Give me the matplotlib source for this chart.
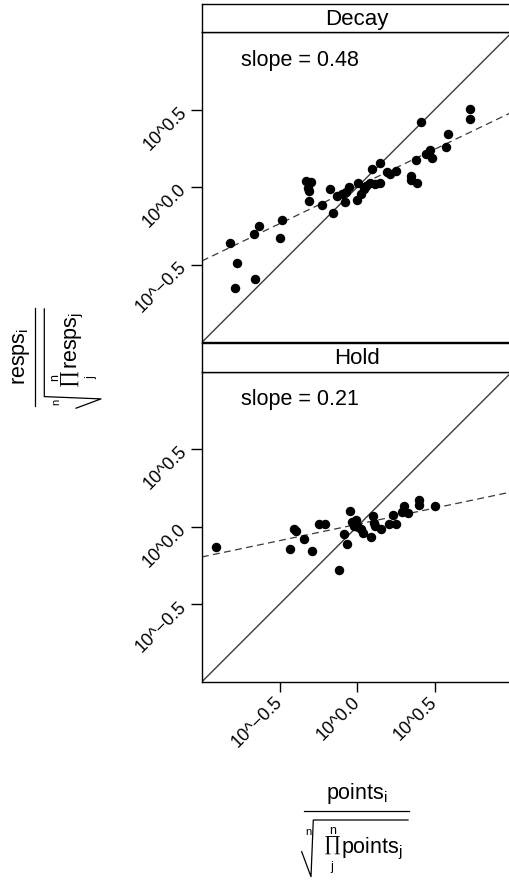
import matplotlib
matplotlib.use("Agg")
import matplotlib.pyplot as plt
import numpy as np
from matplotlib.lines import Line2D
from matplotlib.transforms import Affine2D

plt.rcParams["font.family"] = ["Liberation Sans", "DejaVu Sans"]
plt.rcParams["mathtext.fontset"] = "custom"
plt.rcParams["mathtext.rm"] = "Liberation Sans"
plt.rcParams["mathtext.it"] = "Liberation Sans"
plt.rcParams["mathtext.bf"] = "Liberation Sans:bold"

# data, all in log10 units (both axes)
decay_x = [-0.818, -0.777, -0.788, -0.659, -0.665, -0.631, -0.494, -0.481,
           -0.326, -0.294, -0.318, -0.309, -0.307, -0.223, -0.172, -0.155,
           -0.131, -0.097, -0.071, -0.079, -0.054, -0.002, 0.009, 0.024,
           0.043, 0.056, 0.082, 0.097, 0.118, 0.146, 0.146, 0.195, 0.215,
           0.249, 0.348, 0.350, 0.384, 0.378, 0.414, 0.448, 0.472, 0.487,
           0.573, 0.586, 0.730, 0.730]
decay_y = [-0.358, -0.491, -0.651, -0.592, -0.302, -0.248, -0.330, -0.210,
           0.038, 0.033, -0.005, -0.027, -0.087, -0.113, -0.012, -0.167,
           -0.059, -0.046, -0.033, -0.096, 0.005, -0.085, 0.027, -0.042,
           -0.012, 0.010, 0.029, 0.115, 0.023, 0.029, 0.154, 0.096, 0.087,
           0.102, 0.074, 0.048, 0.027, 0.177, 0.420, 0.218, 0.238, 0.188,
           0.259, 0.343, 0.502, 0.438]
hold_x = [-0.910, -0.431, -0.408, -0.391, -0.341, -0.292, -0.245, -0.208,
          -0.118, -0.086, -0.062, -0.045, -0.032, -0.009, -0.017, 0.006,
          0.024, 0.041, 0.088, 0.101, 0.112, 0.118, 0.152, 0.206, 0.232,
          0.253, 0.288, 0.300, 0.326, 0.399, 0.399, 0.500]
hold_y = [-0.129, -0.142, -0.015, -0.030, -0.082, -0.155, 0.015, 0.017,
          -0.279, -0.045, -0.112, 0.103, 0.032, 0.043, 0.006, 0.000,
          -0.013, -0.041, -0.067, 0.071, 0.026, 0.004, -0.013, 0.019, 0.073,
          0.015, 0.097, 0.133, 0.090, 0.172, 0.139, 0.135]

panel_names = ["Decay", "Hold"]
fit_slopes = [0.48, 0.21]
fit_intercepts = [0.005, 0.015]

tick_vals = [-0.5, 0.0, 0.5]
tick_labels = ["10^\u22120.5", "10^0.0", "10^0.5"]

W, H = 510, 880
fig = plt.figure(figsize=(W / 100, H / 100), dpi=100)


def fx(px):
    return px / W


def fy(py):
    return 1 - py / H


def draw_ratio_label(name, cx, cy, half, rot, num_gap=12):
    """name_i over the n-th root of prod name_j, drawn piece by piece (pixels)."""
    tr = Affine2D().rotate_deg(rot).translate(cx, H - cy)
    kw = dict(transform=tr, rotation=rot, rotation_mode="anchor")
    big = 15.5
    small = 9
    fig.text(0, num_gap, name + r"$_{\mathrm{i}}$", ha="center", va="baseline",
             fontsize=big, **kw)
    fig.add_artist(Line2D([-half, half], [0, 0], color="black", lw=0.9,
                          transform=tr))
    # radical sign with overline
    fig.add_artist(Line2D([-half - 2.3, -half + 7, -half + 9.3, half - 1],
                          [-41, -66, -9.3, -9.3], color="black", lw=0.9,
                          transform=tr))
    fig.text(-half + 4.5, -21, "n", ha="center", va="center", fontsize=small - 1, **kw)
    fig.text(-half + 28.2, -35.5, "\u220f", ha="center", va="center",
             fontsize=15, family="Liberation Serif", **kw)
    fig.text(-half + 28.2, -20, "n", ha="center", va="center", fontsize=small, **kw)
    fig.text(-half + 28.2, -56, "j", ha="center", va="center", fontsize=small, **kw)
    fig.text(-half + 37, -42.3, name + r"$_{\mathrm{j}}$", ha="left",
             va="baseline", fontsize=big, **kw)


panel_left, panel_w, panel_h, strip_h = 202, 310, 310, 28.3
panel_tops = [32.3, 371.7]
series = [(decay_x, decay_y), (hold_x, hold_y)]

for i, name in enumerate(panel_names):
    top = panel_tops[i]
    ax = fig.add_axes([fx(panel_left), fy(top + panel_h), panel_w / W, panel_h / H])
    xs, ys = series[i]
    lim = np.array([-1.0, 1.0])
    ax.plot(lim, lim, color="#3a3a3a", lw=1.0, zorder=1)
    ax.plot(lim, fit_intercepts[i] + fit_slopes[i] * lim, color="#3a3a3a",
            lw=0.9, linestyle=(0, (5.5, 3.5)), zorder=1)
    ax.plot(xs, ys, "o", color="black", ms=5.8, mec="black", zorder=3)
    ax.text(-0.75, 0.82, f"slope = {fit_slopes[i]:.2f}", fontsize=15.5,
            ha="left", va="center")
    ax.set_xlim(-1, 1)
    ax.set_ylim(-1, 1)
    for sp in ax.spines.values():
        sp.set_linewidth(1.0)
    ax.set_yticks(tick_vals)
    ax.set_yticklabels(tick_labels, rotation=45, ha="right", va="center",
                       rotation_mode="anchor", fontsize=13)
    ax.tick_params(axis="y", length=8, width=1, pad=5)
    if i == len(panel_names) - 1:
        ax.set_xticks(tick_vals)
        ax.set_xticklabels(tick_labels, rotation=45, ha="right", va="center",
                           rotation_mode="anchor", fontsize=13)
        ax.tick_params(axis="x", length=7, width=1, pad=6)
    else:
        ax.set_xticks([])

    # strip with panel name
    sax = fig.add_axes([fx(panel_left), fy(top), panel_w / W, strip_h / H])
    sax.set_xticks([])
    sax.set_yticks([])
    for sp in sax.spines.values():
        sp.set_linewidth(1.0)
    sax.text(0.5, 0.45, name, transform=sax.transAxes, ha="center",
             va="center", fontsize=16)

draw_ratio_label("resps", 35, 356.9, 49, 90, num_gap=10)
draw_ratio_label("points", 356.5, 810.7, 52.5, 0)

fig.savefig("out.png", dpi=100)
